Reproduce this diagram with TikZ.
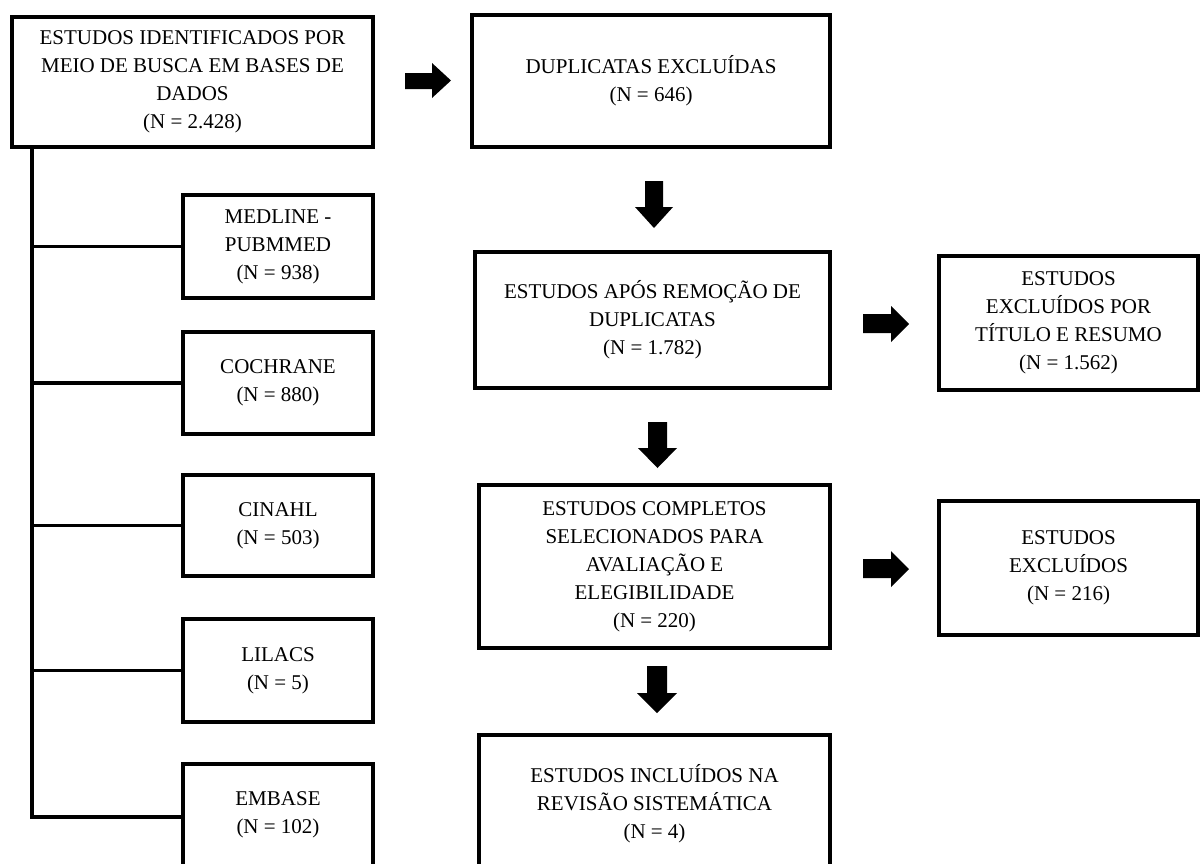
\documentclass[tikz,border=0pt]{standalone}
\usepackage{fontspec}
\setmainfont{Liberation Serif}
\begin{document}
\begin{tikzpicture}[x={(1pt,0)},y={(0,-1pt)},
  box/.style={draw=black,line width=4pt,fill=white,inner sep=0pt,align=center,
    font=\fontsize{21}{28}\selectfont},
  link/.style={line width=3.2pt},
  blockarrow/.style={fill=black}]
\useasboundingbox[fill=white] (0,0) rectangle (1200,863);
% left column
\node[box,minimum width=361pt,minimum height=130pt] (src) at (192.5,82)
  {ESTUDOS IDENTIFICADOS POR\\MEIO DE BUSCA EM BASES DE\\DADOS\\(N = 2.428)};
\node[box,minimum width=190pt,minimum height=103pt] (medline) at (278,246.5)
  {MEDLINE -\\PUBMMED\\(N = 938)};
\node[box,minimum width=190pt,minimum height=102pt] (cochrane) at (278,383)
  {COCHRANE\\(N = 880)};
\node[box,minimum width=190pt,minimum height=101pt] (cinahl) at (278,525.5)
  {CINAHL\\(N = 503)};
\node[box,minimum width=190pt,minimum height=103pt] (lilacs) at (278,670.5)
  {LILACS\\(N = 5)};
\node[box,minimum width=190pt,minimum height=102pt] (embase) at (278,815)
  {EMBASE\\(N = 102)};
% middle column
\node[box,minimum width=358pt,minimum height=132pt] (dup) at (651,81)
  {DUPLICATAS EXCLUÍDAS\\(N = 646)};
\node[box,minimum width=355pt,minimum height=136pt] (after) at (652.5,320)
  {ESTUDOS APÓS REMOÇÃO DE\\DUPLICATAS\\(N = 1.782)};
\node[box,minimum width=351pt,minimum height=163pt] (full) at (654.5,566.5)
  {ESTUDOS COMPLETOS\\SELECIONADOS PARA\\AVALIAÇÃO E\\ELEGIBILIDADE\\(N = 220)};
\node[box,minimum width=351pt,minimum height=137pt] (incl) at (654.5,803.5)
  {ESTUDOS INCLUÍDOS NA\\REVISÃO SISTEMÁTICA\\(N = 4)};
% right column
\node[box,minimum width=259pt,minimum height=134pt] (tit) at (1068.5,323)
  {ESTUDOS\\EXCLUÍDOS POR\\TÍTULO E RESUMO\\(N = 1.562)};
\node[box,minimum width=259pt,minimum height=134pt] (exc) at (1068.5,568)
  {ESTUDOS\\EXCLUÍDOS\\(N = 216)};
% trunk and branches
\coordinate (trunk) at (32,0);
\coordinate (tend) at (32,817);
\draw[link] (trunk |- src.south) -- (tend);
\draw[link] (trunk |- medline.west) -- (medline.west);
\draw[link] (trunk |- cochrane.west) -- (cochrane.west);
\draw[link] (trunk |- cinahl.west) -- (cinahl.west);
\draw[link] (trunk |- lilacs.west) -- (lilacs.west);
\draw[link,line cap=rect] (tend) -- (tend -| embase.west);
% block arrows
\fill[blockarrow] (405,73)--(432,73)--(432,63)--(451,80.5)--(432,98)--(432,89)--(405,89)--cycle;
\fill[blockarrow] (863,314)--(891,314)--(891,306)--(909,324)--(891,342)--(891,333)--(863,333)--cycle;
\fill[blockarrow] (863,559)--(891,559)--(891,551)--(909,569)--(891,587)--(891,578)--(863,578)--cycle;
\fill[blockarrow] (645,181)--(663,181)--(663,207)--(673,207)--(654,228)--(635,207)--(645,207)--cycle;
\fill[blockarrow] (648,422)--(667,422)--(667,448)--(677,448)--(657.5,468)--(638,448)--(648,448)--cycle;
\fill[blockarrow] (647,666)--(667,666)--(667,693)--(677,693)--(657,713)--(637,693)--(647,693)--cycle;
\end{tikzpicture}
\end{document}
